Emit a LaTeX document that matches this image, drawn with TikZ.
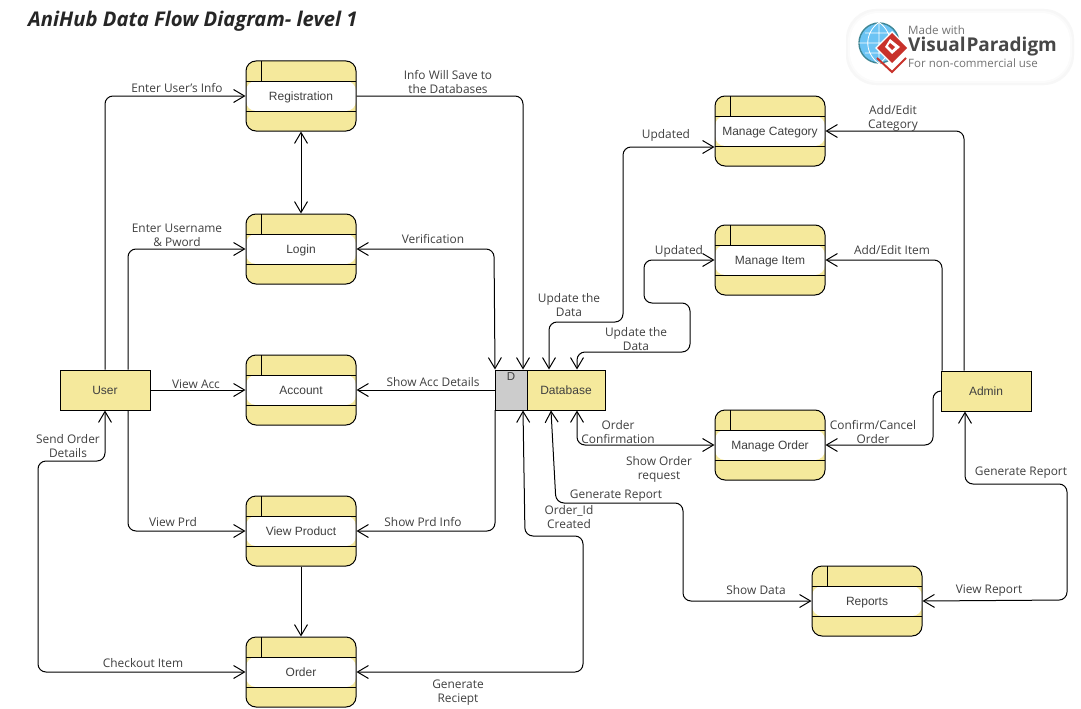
\documentclass[tikz,border=0pt]{standalone}
\usepackage{fontspec}
\setmainfont{Open Sans}
\newfontfamily\boxfont{Liberation Sans}
\usetikzlibrary{arrows.meta,calc}
\definecolor{dfdyellow}{HTML}{F5E99C}
\definecolor{txtgray}{HTML}{404040}
\definecolor{logoblue}{HTML}{6CC4F4}
\definecolor{logoteal}{HTML}{3F8796}
\definecolor{logored}{HTML}{C8322B}
\tikzset{
  boxtext/.style={font=\boxfont\fontsize{12}{14}\selectfont,text=txtgray,text height=10pt,text depth=2pt},
  procbox/.style={draw=black,line width=1pt,fill=dfdyellow,rounded corners=10pt,
    minimum width=110pt,minimum height=70pt,inner sep=0pt,boxtext,
    path picture={
      \fill[white] ([yshift=-20pt]path picture bounding box.north west) rectangle ([yshift=20pt]path picture bounding box.south east);
      \draw[line width=1pt,sharp corners] ([yshift=-20pt]path picture bounding box.north west) -- ([yshift=-20pt]path picture bounding box.north east);
      \draw[line width=1pt,sharp corners] ([yshift=20pt]path picture bounding box.south west) -- ([yshift=20pt]path picture bounding box.south east);
      \draw[line width=1pt,sharp corners] ([xshift=15.5pt]path picture bounding box.north west) -- ([xshift=15.5pt,yshift=-20pt]path picture bounding box.north west);
    }},
  entbox/.style={draw=black,line width=1pt,fill=dfdyellow,minimum width=90pt,minimum height=40pt,inner sep=0pt,boxtext},
  barb/.tip={Straight Barb[length=11pt,width=13pt,line width=1pt]},
  flow/.style={draw=black,line width=1pt,rounded corners=8pt,-{barb}},
  flowtwo/.style={flow,{barb}-{barb}},
  lab/.style={font=\fontsize{11.9}{14}\selectfont,text=txtgray,align=center,inner sep=0pt},
}
\begin{document}
\begin{tikzpicture}[x=1pt,y=-1pt]
\useasboundingbox (0,0) rectangle (1081,709);
\fill[white] (0,0) rectangle (1081,709);
% title
\node[anchor=west,inner sep=0pt,font=\bfseries\itshape\fontsize{20.25}{23}\selectfont,text=black!85] (title) at (28,21.5) {AniHub Data Flow Diagram- level 1};
% logo
\fill[black!3,rounded corners=30pt] (846,9) rectangle (1074,85);
\fill[black!1.5,rounded corners=30pt] (848,11) rectangle (1072,83);
\node[draw=none,fill=white,rounded corners=28pt,minimum width=220pt,minimum height=68pt,inner sep=0pt] (logobg) at (960,47) {};
\node[circle,draw=logoteal,line width=1.4pt,fill=logoblue,minimum size=40pt,inner sep=0pt] (globe) at (879,43) {};
\draw[white,line width=.8pt] (globe.north) -- (globe.south) (globe.west) -- (globe.east)
  (865,33) -- (893,33) (865,53) -- (893,53)
  (globe.north) .. controls (864,33) and (864,53) .. (globe.south)
  (globe.north) .. controls (894,33) and (894,53) .. (globe.south);
\draw[logored,line width=2pt] (877,58) -- (892,72) -- (906,58);
\fill[white] (875,48) -- (892,31) -- (909,48) -- (892,65) -- cycle;
\fill[logored] (877,48) -- (892,33) -- (907,48) -- (892,63) -- cycle;
\fill[white] (890,39) -- (900,47) -- (892,54) -- (888,50) -- (885,47) -- cycle;
\fill[logored] (890,43) -- (895,47) -- (892,50) -- (888,46) -- cycle;
\node[anchor=west,inner sep=0pt,font=\fontsize{11.6}{13}\selectfont,text=black!55] (logoa) at (908,30) {Made with};
\node[anchor=west,inner sep=0pt,font=\bfseries\fontsize{19}{22}\selectfont,text=black!72] (logob) at (908,47) {Visual\kern1pt Paradigm};
\node[anchor=west,inner sep=0pt,font=\fontsize{11.5}{13}\selectfont,text=black!55] (logoc) at (908,63) {For non-commercial use};
% nodes
\node[procbox] (reg) at (301,96) {Registration};
\node[procbox] (login) at (301,249) {Login};
\node[procbox] (acc) at (301,390) {Account};
\node[procbox] (prd) at (301,531) {View Product};
\node[procbox] (order) at (301,672) {Order};
\node[procbox] (mcat) at (770,131) {Manage Category};
\node[procbox] (mitem) at (770,260) {Manage Item};
\node[procbox] (mord) at (770,445) {Manage Order};
\node[procbox] (rep) at (867,601) {Reports};
\node[entbox] (user) at (105,390) {User};
\node[entbox] (admin) at (986,391) {Admin};
\node[draw=black,line width=1pt,fill=black!20,minimum width=32pt,minimum height=40pt,inner sep=0pt] (dbd) at (511,390) {};
\node[entbox,minimum width=78pt] (db) at (566,390) {Database};
\node[inner sep=0pt,font=\boxfont\fontsize{11.5}{12}\selectfont,text=txtgray] (dbdl) at (511,377) {D};
% free bend points
\coordinate (oa) at (38,461);
\coordinate (ob) at (583,536);
\coordinate (oc) at (525,536);
\coordinate (ua) at (549,322);
\coordinate (ub) at (623,322);
\coordinate (uc) at (623,147);
\coordinate (ia) at (577,352);
\coordinate (ib) at (690,352);
\coordinate (ic) at (690,303);
\coordinate (id) at (644,303);
\coordinate (ie) at (644,260);
\coordinate (ga) at (556,503);
\coordinate (gb) at (683,503);
\coordinate (ad) at (933,391);
\coordinate (ra) at (965,484);
\coordinate (rb) at (1067,484);
\coordinate (rc) at (1067,600);
\coordinate (pa) at (495,531);
\coordinate (pb) at (495,410);
\coordinate (va) at (494,249);
\coordinate (oe) at (583,672);
\coordinate (of) at (38,672);
% connectors left
\draw[flow] ([xshift=0pt]user.north) |- (reg.west);
\draw[flow] ([xshift=23pt]user.north) |- (login.west);
\draw[flow] (user.east) -- (acc.west);
\draw[flow] ([xshift=23pt]user.south) |- (prd.west);
\draw[flowtwo] (user.south) |- (oa) -- (of) -- (order.west);
\draw[flowtwo] (reg.south) -- (login.north);
\draw[flow] (prd.south) -- (order.north);
\draw[flow] (reg.east) -| ([xshift=12pt]dbd.north);
\draw[flowtwo] (login.east) -- (va) -- ([xshift=-16pt]dbd.north);
\draw[flow] (dbd.west) -- (acc.east);
\draw[flow] (pb) -- (pa) -- (prd.east);
\draw[flowtwo] (order.east) -- (oe) -- (ob) -- (oc) -- ([xshift=12pt]dbd.south);
% connectors right
\draw[flowtwo] ([xshift=-17pt]db.north) -- (ua) -- (ub) -- (uc) -- ([yshift=-16pt]mcat.west);
\draw[flowtwo] ([xshift=11pt]db.north) -- (ia) -- (ib) -- (ic) -- (id) -- (ie) -- (mitem.west);
\draw[flowtwo] ([xshift=11pt]db.south) |- (mord.west);
\draw[flowtwo] ([xshift=-15pt]db.south) -- (ga) -- (gb) |- (rep.west);
\draw[flow] ([xshift=-22pt]admin.north) |- (mcat.east);
\draw[flow] ([xshift=-44pt]admin.north) |- (mitem.east);
\draw[flow] (admin.west) -- (ad) |- (mord.east);
\draw[flowtwo] ([xshift=-21pt]admin.south) -- (ra) -- (rb) -- (rc) -- (rep.east);
% labels
\node[lab] (l1) at (177,88) {Enter User's Info};
\node[lab] (l2) at (448,82) {Info Will Save to\\the Databases};
\node[lab] (l3) at (177,235) {Enter Username\\\& Pword};
\node[lab] (l4) at (433,239) {Verification};
\node[lab] (l5) at (196,384.5) {View Acc};
\node[lab] (l6) at (433,382.5) {Show Acc Details};
\node[lab] (l7) at (68,446) {Send Order\\Details};
\node[lab] (l8) at (173,522) {View Prd};
\node[lab] (l9) at (423,522) {Show Prd Info};
\node[lab] (l10) at (143,663) {Checkout Item};
\node[lab] (l11) at (458,692.5) {Generate\\Reciept};
\node[lab] (l12) at (569,305) {Update the\\Data};
\node[lab] (l13) at (636,339) {Update the\\Data};
\node[lab] (l14) at (666,135) {Updated};
\node[lab] (l15) at (679,251) {Updated};
\node[lab] (l16) at (618,432) {Order\\Confirmation};
\node[lab] (l17) at (659,469) {Show Order\\request};
\node[lab] (l18) at (616,496) {Generate Report};
\node[lab] (l19) at (569,517) {Order\_Id\\Created};
\node[lab] (l20) at (756,590.5) {Show Data};
\node[lab] (l21) at (893,118) {Add/Edit\\Category};
\node[lab] (l22) at (892,250) {Add/Edit Item};
\node[lab] (l23) at (873,432) {Confirm/Cancel\\Order};
\node[lab] (l24) at (1021,472.5) {Generate Report};
\node[lab] (l25) at (989,591) {View Report};
\end{tikzpicture}
\end{document}
